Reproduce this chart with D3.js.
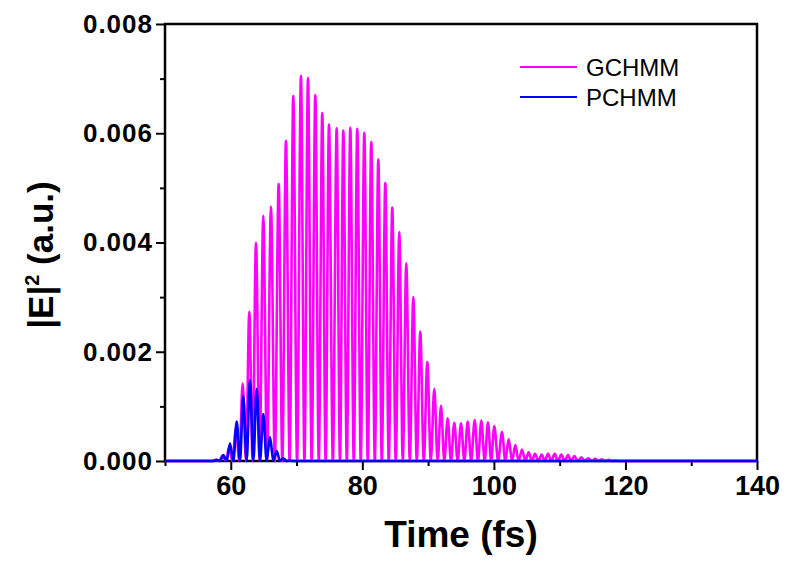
<!DOCTYPE html>
<html>
<head>
<meta charset="utf-8">
<script src="https://cdn.jsdelivr.net/npm/d3@7"></script>
<style>
  body { margin: 0; background: #fff; }
  svg { display: block; }
  text { font-family: "Liberation Sans", Arial, sans-serif; }
</style>
</head>
<body>
<script>
// GCHMM: peaks, troughs sit on zero between them
var gchmmPeakT = [57.7, 58.75, 59.75, 60.78, 61.81, 62.82, 63.83, 64.94, 66.11, 67.28, 68.39, 69.50,
  70.67, 71.74, 72.85, 73.91, 74.93, 76.10, 77.11, 78.17, 79.23, 80.30, 81.36, 82.43, 83.49,
  84.55, 85.62, 86.68, 87.75, 88.81, 89.88, 90.94, 91.96, 92.97, 93.98, 95.00, 96.02, 97.08,
  98.09, 99.10, 100.06, 101.23, 102.25, 103.26, 104.27, 105.29, 106.25, 107.27, 108.22, 109.24,
  110.25, 111.27, 112.23, 113.3, 114.35, 115.4, 116.4, 117.45, 118.5];
var gchmmPeakE = [0.00002, 0.0001, 0.00025, 0.0006, 0.00142, 0.00273, 0.00400, 0.00449, 0.00466,
  0.00507, 0.00586, 0.00668, 0.00705, 0.00701, 0.00670, 0.00637, 0.00616, 0.00609, 0.00605,
  0.00610, 0.00608, 0.00601, 0.00584, 0.00552, 0.00509, 0.00464, 0.00419, 0.00362, 0.00300,
  0.00237, 0.00181, 0.00132, 0.00101, 0.00078, 0.00070, 0.00069, 0.00072, 0.00075, 0.00074,
  0.00071, 0.00064, 0.00053, 0.00040, 0.00029, 0.00021, 0.00016, 0.00013, 0.00012, 0.00013,
  0.00013, 0.00012, 0.00011, 0.00009, 0.00007, 0.00005, 0.00004, 0.00003, 0.00002, 0.00001];
var gchmmTroughT = [50, 57.2, 58.22, 59.25, 60.26, 61.3, 62.32, 63.33, 64.38, 65.52, 66.7, 67.84,
  68.95, 70.08, 71.2, 72.3, 73.38, 74.42, 75.52, 76.6, 77.64, 78.7, 79.76, 80.83, 81.9, 82.96,
  84.02, 85.08, 86.15, 87.22, 88.28, 89.34, 90.41, 91.45, 92.46, 93.48, 94.49, 95.51, 96.55,
  97.58, 98.6, 99.58, 100.64, 101.74, 102.76, 103.76, 104.78, 105.77, 106.76, 107.74, 108.73,
  109.74, 110.76, 111.75, 112.76, 113.82, 114.88, 115.9, 116.92, 117.98, 119, 140];

// PCHMM
var pchmmPeakT = [57.85, 58.87, 59.88, 60.90, 61.90, 62.92, 63.94, 64.94, 65.96, 66.98, 67.98, 69.0];
var pchmmPeakE = [0.00002, 0.00011, 0.00032, 0.00072, 0.00119, 0.00148, 0.00132, 0.00086,
  0.00044, 0.00018, 0.00005, 0.00001];
var pchmmTroughT = [50, 57.35, 58.36, 59.37, 60.39, 61.4, 62.41, 63.43, 64.44, 65.45, 66.47,
  67.48, 68.49, 69.5, 140];

var seriesNames = ['GCHMM', 'PCHMM'];
var seriesColors = ['#ff00ff', '#0000ff'];

var xMajor = [60, 80, 100, 120, 140];
var xMinor = [50, 70, 90, 110, 130];
var yMajor = [0, 0.002, 0.004, 0.006, 0.008];
var yMinor = [0.001, 0.003, 0.005, 0.007];

function build(peakT, peakE, troughT) {
  var pts = peakT.map(function(t, i) { return { t: t, e: peakE[i] }; })
    .concat(troughT.map(function(t) { return { t: t, e: 0 }; }));
  pts.sort(function(a, b) { return a.t - b.t; });
  return pts;
}

var W = 785, H = 562;
var margin = { top: 24, right: 28, bottom: 101, left: 165 },
  width = W - margin.left - margin.right,
  height = H - margin.top - margin.bottom;

var svg = d3.select('body').append('svg')
  .attr('width', W)
  .attr('height', H);

var g = svg.append('g').attr('transform', 'translate(' + margin.left + ',' + margin.top + ')');

var x = d3.scaleLinear().domain([50, 140]).range([0, width]);
var y = d3.scaleLinear().domain([0, 0.008]).range([height, 0]);

g.append('clipPath').attr('id', 'clip')
  .append('rect').attr('width', width).attr('height', height + 4).attr('y', -2);

// axes: major + minor ticks pointing out
function styleAxis(sel) {
  sel.select('.domain').remove();
  sel.selectAll('.tick line').attr('stroke', '#000').attr('stroke-width', 2);
  sel.selectAll('.tick text').attr('fill', '#000').style('font-weight', 'bold');
}

g.append('g')
  .attr('transform', 'translate(0,' + height + ')')
  .call(d3.axisBottom(x).tickValues(xMajor).tickSize(9).tickPadding(6))
  .call(styleAxis)
  .selectAll('.tick text').style('font-size', '27px');

g.append('g')
  .attr('transform', 'translate(0,' + height + ')')
  .call(d3.axisBottom(x).tickValues(xMinor).tickSize(5).tickFormat(''))
  .call(styleAxis);

g.append('g')
  .call(d3.axisLeft(y).tickValues(yMajor).tickSize(9).tickPadding(3).tickFormat(d3.format('.3f')))
  .call(styleAxis)
  .selectAll('.tick text').style('font-size', '26px').style('letter-spacing', '1px');

g.append('g')
  .call(d3.axisLeft(y).tickValues(yMinor).tickSize(5).tickFormat(''))
  .call(styleAxis);

// frame
g.append('rect')
  .attr('width', width)
  .attr('height', height)
  .attr('fill', 'none')
  .attr('stroke', '#000')
  .attr('stroke-width', 2.5);

var line = d3.line()
  .x(function(d) { return x(d.t); })
  .y(function(d) { return y(d.e); })
  .curve(d3.curveMonotoneX);

var data = [
  build(gchmmPeakT, gchmmPeakE, gchmmTroughT),
  build(pchmmPeakT, pchmmPeakE, pchmmTroughT)
];

g.append('g').attr('clip-path', 'url(#clip)')
  .selectAll('path')
  .data(data)
  .enter()
  .append('path')
  .attr('d', line)
  .attr('fill', 'none')
  .attr('stroke', function(d, i) { return seriesColors[i]; })
  .attr('stroke-width', 2.6)
  .attr('stroke-linejoin', 'round');

// axis titles
svg.append('text')
  .attr('x', margin.left + width / 2)
  .attr('y', 547)
  .attr('text-anchor', 'middle')
  .style('font-size', '37px')
  .style('font-weight', 'bold')
  .text('Time (fs)');

var yt = svg.append('text')
  .attr('transform', 'translate(53,255) rotate(-90)')
  .attr('text-anchor', 'middle')
  .style('font-size', '35px')
  .style('font-weight', 'bold');
yt.append('tspan').text('|E|');
yt.append('tspan').attr('dy', -14).style('font-size', '20px').text('2');
yt.append('tspan').attr('dy', 14).text(' (a.u.)');

// legend
var legend = svg.append('g').selectAll('g')
  .data(seriesNames)
  .enter()
  .append('g')
  .attr('transform', function(d, i) { return 'translate(520,' + (67 + i * 30) + ')'; });

legend.append('line')
  .attr('x1', 0).attr('x2', 57)
  .attr('stroke', function(d, i) { return seriesColors[i]; })
  .attr('stroke-width', 2.2);

legend.append('text')
  .attr('x', 66)
  .attr('y', 9)
  .style('font-size', '24px')
  .text(function(d) { return d; });
</script>
</body>
</html>
